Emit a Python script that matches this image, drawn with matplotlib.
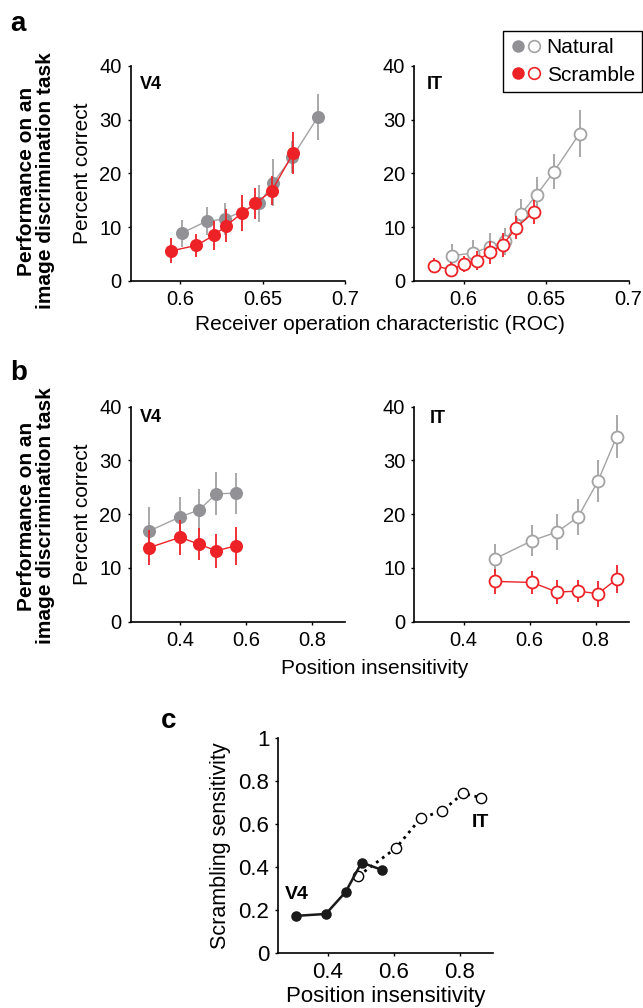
import matplotlib
matplotlib.use("Agg")
import matplotlib.pyplot as plt
from matplotlib.legend_handler import HandlerTuple
from matplotlib.lines import Line2D

plt.rcParams['font.family'] = ['Liberation Sans', 'DejaVu Sans']

# ---------------- data ----------------
# Panel a, V4 (filled markers)
a_v4_nat_x = [0.601, 0.616, 0.627, 0.648, 0.6565, 0.668, 0.6836]
a_v4_nat_y = [8.9, 11.1, 11.5, 14.4, 18.3, 23.0, 30.5]
a_v4_nat_e = [2.5, 2.6, 2.9, 3.4, 4.3, 3.0, 4.3]
a_v4_scr_x = [0.5945, 0.6097, 0.6206, 0.6281, 0.6374, 0.6457, 0.6557, 0.6686]
a_v4_scr_y = [5.6, 6.6, 8.5, 10.3, 12.6, 14.4, 16.8, 23.8]
a_v4_scr_e = [2.3, 2.2, 2.7, 3.0, 3.3, 2.8, 2.7, 3.9]
# Panel a, IT (open markers)
a_it_nat_x = [0.5929, 0.6057, 0.6162, 0.6253, 0.6347, 0.6442, 0.6547, 0.6703]
a_it_nat_y = [4.7, 5.2, 6.4, 7.4, 12.4, 16.0, 20.3, 27.4]
a_it_nat_e = [2.1, 2.4, 2.5, 2.5, 2.8, 3.4, 3.3, 4.3]
a_it_scr_x = [0.5822, 0.5925, 0.6004, 0.6081, 0.6158, 0.6236, 0.6319, 0.6424]
a_it_scr_y = [2.8, 2.1, 3.2, 3.8, 5.3, 6.7, 9.9, 12.8]
a_it_scr_e = [1.4, 1.4, 1.5, 1.8, 2.1, 2.3, 2.1, 2.3]
# Panel b, V4
b_v4_x = [0.307, 0.400, 0.458, 0.509, 0.569]
b_v4_nat_y = [16.9, 19.5, 20.8, 23.8, 23.9]
b_v4_nat_e = [4.4, 3.7, 3.9, 4.0, 3.8]
b_v4_scr_y = [13.8, 15.7, 14.4, 13.2, 14.1]
b_v4_scr_e = [3.2, 3.2, 3.0, 3.2, 3.6]
# Panel b, IT
b_it_x = [0.494, 0.608, 0.6835, 0.747, 0.807, 0.864]
b_it_nat_y = [11.7, 15.1, 16.7, 19.5, 26.1, 34.4]
b_it_nat_e = [2.7, 2.9, 3.3, 3.4, 3.9, 4.0]
b_it_scr_y = [7.5, 7.3, 5.5, 5.7, 5.2, 7.9]
b_it_scr_e = [2.3, 2.2, 2.2, 2.1, 2.4, 2.6]
# Panel c
c_v4_x = [0.3025, 0.394, 0.454, 0.5025, 0.5645]
c_v4_y = [0.174, 0.183, 0.285, 0.422, 0.388]
c_it_x = [0.493, 0.607, 0.682, 0.747, 0.810, 0.8635]
c_it_y = [0.360, 0.490, 0.629, 0.662, 0.744, 0.724]

a_xticks = [0.6, 0.65, 0.7]
a_xticklabels = ['0.6', '0.65', '0.7']
pc_yticks = [0, 10, 20, 30, 40]
b_xticks = [0.4, 0.6, 0.8]
b_xticklabels = ['0.4', '0.6', '0.8']
c_yticks = [0, 0.2, 0.4, 0.6, 0.8, 1]
c_yticklabels = ['0', '0.2', '0.4', '0.6', '0.8', '1']

GRAY = '#919196'
GRAY_LINE = '#a3a3a3'
RED = '#ec2227'
FS = 15
TFS = 14.5

W, H = 643, 1008
fig = plt.figure(figsize=(W / 100, H / 100), dpi=100)


def rect(l, r, t, b):
    return [l / W, 1 - b / H, (r - l) / W, (b - t) / H]


def style(ax, tfs=TFS):
    for s in ['top', 'right']:
        ax.spines[s].set_visible(False)
    for s in ['left', 'bottom']:
        ax.spines[s].set_linewidth(1.2)
    ax.tick_params(direction='out', length=2.5, width=1, labelsize=tfs, pad=4)


def series(ax, x, y, e, color, lcolor, filled, ms=9.4, z=2):
    ax.errorbar(x, y, yerr=e, fmt='none', ecolor=lcolor, elinewidth=1.3,
                capsize=0, zorder=z)
    ax.plot(x, y, '-', color=lcolor, lw=1.0, zorder=z + 0.1)
    if filled:
        ax.plot(x, y, 'o', ms=ms, mfc=color, mec=color, mew=0, zorder=z + 0.2)
    else:
        ax.plot(x, y, 'o', ms=ms, mfc='white', mec=color, mew=1.3,
                zorder=z + 0.2)


# ---- panel a ----
ax1 = fig.add_axes(rect(130.7, 345, 65.7, 281))
ax2 = fig.add_axes(rect(414.3, 628.5, 65.7, 281))
for ax in (ax1, ax2):
    style(ax)
    ax.set_xlim(0.57, 0.7)
    ax.set_ylim(0, 40)
    ax.set_xticks(a_xticks)
    ax.set_xticklabels(a_xticklabels)
    ax.set_yticks(pc_yticks)
series(ax1, a_v4_nat_x, a_v4_nat_y, a_v4_nat_e, GRAY, GRAY_LINE, True, z=2)
series(ax1, a_v4_scr_x, a_v4_scr_y, a_v4_scr_e, RED, RED, True, z=3)
series(ax2, a_it_nat_x, a_it_nat_y, a_it_nat_e, GRAY_LINE, GRAY_LINE, False, ms=8.6, z=2)
series(ax2, a_it_scr_x, a_it_scr_y, a_it_scr_e, RED, RED, False, ms=8.6, z=3)
ax1.text(0.045, 0.915, 'V4', transform=ax1.transAxes, fontsize=13,
         fontweight='bold', va='center', ha='left')
ax2.text(0.06, 0.915, 'IT', transform=ax2.transAxes, fontsize=13,
         fontweight='bold', va='center', ha='left')
ax1.set_ylabel('Percent correct', fontsize=FS, labelpad=5)
fig.text(380 / W, 1 - 325 / H, 'Receiver operation characteristic (ROC)',
         fontsize=FS, ha='center', va='center')

# legend
h_nf = Line2D([], [], ls='none', marker='o', ms=9.0, mfc=GRAY, mec=GRAY, mew=0)
h_no = Line2D([], [], ls='none', marker='o', ms=8.4, mfc='white', mec=GRAY_LINE, mew=1.2)
h_sf = Line2D([], [], ls='none', marker='o', ms=9.0, mfc=RED, mec=RED, mew=0)
h_so = Line2D([], [], ls='none', marker='o', ms=8.4, mfc='white', mec=RED, mew=1.2)
leg = fig.legend([(h_nf, h_no), (h_sf, h_so)], ['Natural', 'Scramble'],
                 handler_map={tuple: HandlerTuple(ndivide=None, pad=0.05)},
                 loc='upper right', bbox_to_anchor=(642 / W, 1 - 31 / H),
                 bbox_transform=fig.transFigure, fontsize=FS, frameon=True,
                 fancybox=False, edgecolor='black', framealpha=1,
                 handlelength=1.5, handletextpad=0.25, borderpad=0.35,
                 labelspacing=0.4, borderaxespad=0)
leg.get_frame().set_linewidth(1.0)

# ---- panel b ----
ax3 = fig.add_axes(rect(130.7, 345, 406.7, 621.7))
ax4 = fig.add_axes(rect(414.3, 628.5, 406.7, 621.7))
for ax in (ax3, ax4):
    style(ax)
    ax.set_xlim(0.25, 0.9)
    ax.set_ylim(0, 40)
    ax.set_xticks(b_xticks)
    ax.set_xticklabels(b_xticklabels)
    ax.set_yticks(pc_yticks)
series(ax3, b_v4_x, b_v4_nat_y, b_v4_nat_e, GRAY, GRAY_LINE, True, z=2)
series(ax3, b_v4_x, b_v4_scr_y, b_v4_scr_e, RED, RED, True, z=3)
series(ax4, b_it_x, b_it_nat_y, b_it_nat_e, GRAY_LINE, GRAY_LINE, False, ms=8.6, z=2)
series(ax4, b_it_x, b_it_scr_y, b_it_scr_e, RED, RED, False, ms=8.6, z=3)
ax3.text(0.045, 0.95, 'V4', transform=ax3.transAxes, fontsize=13,
         fontweight='bold', va='center', ha='left')
ax4.text(0.07, 0.945, 'IT', transform=ax4.transAxes, fontsize=13,
         fontweight='bold', va='center', ha='left')
ax3.set_ylabel('Percent correct', fontsize=FS, labelpad=5)
fig.text(375 / W, 1 - 669 / H, 'Position insensitivity',
         fontsize=FS, ha='center', va='center')

# row labels
for yc in (181, 516):
    fig.text(36 / W, 1 - yc / H, 'Performance on an\nimage discrimination task',
             rotation=90, fontsize=FS, fontweight='bold', ha='center',
             va='center', multialignment='center', linespacing=1.0)

# panel letters
fig.text(10 / W, 1 - 24 / H, 'a', fontsize=20, fontweight='bold', va='center')
fig.text(10 / W, 1 - 373 / H, 'b', fontsize=20, fontweight='bold', va='center')
fig.text(161 / W, 1 - 721 / H, 'c', fontsize=20, fontweight='bold', va='center')

# ---- panel c ----
ax5 = fig.add_axes(rect(278.3, 492.7, 738.3, 953.3))
style(ax5, tfs=16)
ax5.set_xlim(0.25, 0.9)
ax5.set_ylim(0, 1)
ax5.set_xticks(b_xticks)
ax5.set_xticklabels(b_xticklabels)
ax5.set_yticks(c_yticks)
ax5.set_yticklabels(c_yticklabels)
ax5.plot(c_it_x, c_it_y, ':', color='black', lw=2.0, zorder=2)
ax5.plot(c_it_x, c_it_y, 'o', ms=7.4, mfc='white', mec='black', mew=1.0, zorder=3)
ax5.plot(c_v4_x, c_v4_y, '-', color='#1a1a1a', lw=1.8, zorder=4)
ax5.plot(c_v4_x, c_v4_y, 'o', ms=7.6, mfc='#1a1a1a', mec='#1a1a1a', mew=0, zorder=5)
ax5.text(0.27, 0.275, 'V4', fontsize=14, fontweight='bold', ha='left', va='center')
ax5.text(0.835, 0.61, 'IT', fontsize=14, fontweight='bold', ha='left', va='center')
ax5.set_ylabel('Scrambling sensitivity', fontsize=15.5, labelpad=5)
ax5.set_xlabel('Position insensitivity', fontsize=16, labelpad=2)

fig.savefig('out.png', dpi=100)
